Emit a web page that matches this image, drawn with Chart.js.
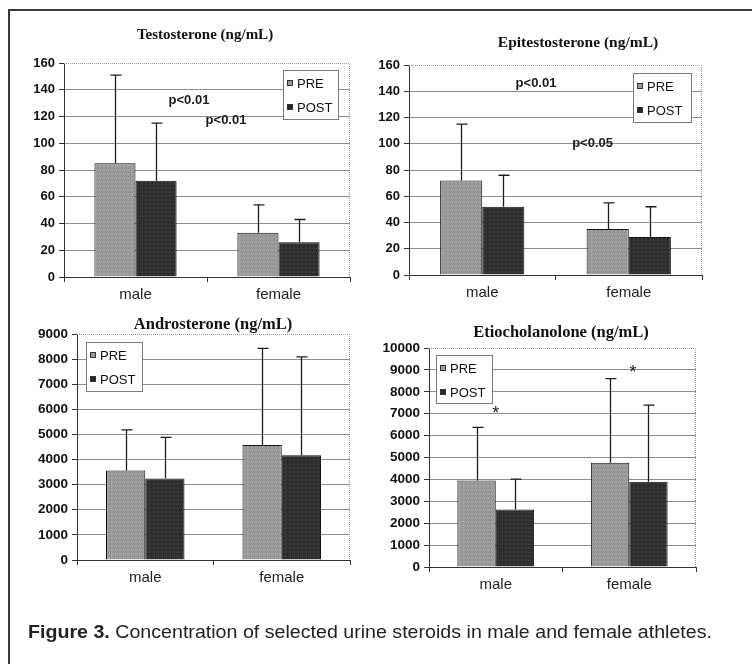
<!DOCTYPE html>
<html>
<head>
<meta charset="utf-8">
<script src="https://cdn.jsdelivr.net/npm/chart.js@4.4.0/dist/chart.umd.min.js"></script>
<style>
  html, body { margin: 0; padding: 0; background: #fff; }
  #page { position: relative; width: 752px; height: 664px; overflow: hidden; background: #fff; }
  #frame { position: absolute; left: 8px; top: 9px; width: 800px; height: 700px;
           border-left: 2px solid #3a3a3a; border-top: 2px solid #3a3a3a; }
  canvas { position: absolute; left: 0; top: 0; }
  #caption { position: absolute; left: 28px; top: 622px; white-space: nowrap; color: #222;
             font-family: "Liberation Sans", Arial, sans-serif;
             font-size: 17.5px; transform-origin: 0 0; }
  #caption b { font-weight: bold; }
</style>
</head>
<body>
<div id="page">
  <div id="frame"></div>
  <canvas id="c1" width="752" height="664"></canvas>
  <canvas id="c2" width="752" height="664"></canvas>
  <canvas id="c3" width="752" height="664"></canvas>
  <canvas id="c4" width="752" height="664"></canvas>
  <div id="caption"><b>Figure 3.</b> Concentration of selected urine steroids in male and female athletes.</div>
</div>
<script>
// ---- data ----
const CATEGORIES = ['male', 'female'];
const SERIES = ['PRE', 'POST'];

const TESTO_PRE = [85, 33];
const TESTO_PRE_SD = [66, 21];
const TESTO_POST = [72, 26];
const TESTO_POST_SD = [43, 17];

const EPI_PRE = [72, 35];
const EPI_PRE_SD = [43, 20];
const EPI_POST = [52, 29];
const EPI_POST_SD = [24, 23];

const ANDRO_PRE = [3560, 4580];
const ANDRO_PRE_SD = [1620, 3850];
const ANDRO_POST = [3250, 4170];
const ANDRO_POST_SD = [1630, 3920];

const ETIO_PRE = [3950, 4760];
const ETIO_PRE_SD = [2430, 3840];
const ETIO_POST = [2630, 3890];
const ETIO_POST_SD = [1380, 3500];

// y axis: [max, step]
const TESTO_AXIS = [160, 20];
const EPI_AXIS = [160, 20];
const ANDRO_AXIS = [9000, 1000];
const ETIO_AXIS = [10000, 1000];

// ---- look ----
const SANS = '"Liberation Sans", Arial, sans-serif';
const SERIF = '"Liberation Serif", "Times New Roman", serif';
const GRID_COLOR = '#8e8e8e';
const AXIS_COLOR = '#333333';

function makePattern(c1, c2) {
  const p = document.createElement('canvas');
  p.width = 4; p.height = 4;
  const g = p.getContext('2d');
  g.fillStyle = c1; g.fillRect(0, 0, 4, 4);
  g.fillStyle = c2;
  g.fillRect(0, 0, 1, 1); g.fillRect(2, 2, 1, 1); g.fillRect(2, 0, 1, 1); g.fillRect(1, 3, 1, 1);
  return document.createElement('canvas').getContext('2d').createPattern(p, 'repeat');
}
const PRE_FILL = makePattern('#a2a2a2', '#858585');
const POST_FILL = makePattern('#2a2a2a', '#454545');
const PRE_KEY = '#9a9a9a';
const POST_KEY = '#262626';

// chart plugin: plot frame, error bars, title, legend box, notes
const decorPlugin = {
  id: 'decor',
  beforeDatasetsDraw(chart) {
    const { ctx, chartArea: a } = chart;
    ctx.save();
    ctx.strokeStyle = '#9a9a9a';
    ctx.lineWidth = 1;
    ctx.setLineDash([1, 1]);
    ctx.beginPath();
    ctx.moveTo(a.left, a.top + 0.5);
    ctx.lineTo(a.right - 0.5, a.top + 0.5);
    ctx.lineTo(a.right - 0.5, a.bottom);
    ctx.stroke();
    ctx.restore();
  },
  afterDatasetsDraw(chart, args, o) {
    const { ctx } = chart;
    const y = chart.scales.y;
    ctx.save();
    ctx.strokeStyle = '#1e1e1e';
    ctx.lineWidth = 1.3;
    (o.errors || []).forEach((errs, di) => {
      const meta = chart.getDatasetMeta(di);
      meta.data.forEach((bar, i) => {
        const v = chart.data.datasets[di].data[i];
        const yt = y.getPixelForValue(v + errs[i]);
        const x = Math.round(bar.x) + 0.5;
        ctx.beginPath();
        ctx.moveTo(x, bar.y);
        ctx.lineTo(x, yt);
        ctx.moveTo(x - 5, yt);
        ctx.lineTo(x + 6, yt);
        ctx.stroke();
      });
    });
    ctx.restore();
  },
  afterDraw(chart, args, o) {
    const { ctx } = chart;
    const xs = chart.scales.x, ys = chart.scales.y;
    ctx.save();
    // title
    if (o.title) {
      ctx.fillStyle = '#111';
      ctx.font = 'bold ' + o.title.size + 'px ' + SERIF;
      ctx.textAlign = 'center';
      ctx.textBaseline = 'middle';
      ctx.fillText(o.title.text, o.title.x, o.title.y);
    }
    // notes (p values, asterisks)
    (o.notes || []).forEach(n => {
      ctx.fillStyle = '#1a1a1a';
      ctx.font = n.font;
      ctx.textAlign = 'center';
      ctx.textBaseline = 'middle';
      ctx.fillText(n.text, xs.getPixelForValue(n.xi), ys.getPixelForValue(n.y));
    });
    // legend box
    if (o.legend) {
      const L = o.legend;
      ctx.fillStyle = '#fff';
      ctx.fillRect(L.x, L.y, L.w, L.h);
      ctx.strokeStyle = '#7a7a7a';
      ctx.lineWidth = 1;
      ctx.strokeRect(L.x + 0.5, L.y + 0.5, L.w, L.h);
      const keys = [PRE_KEY, POST_KEY];
      SERIES.forEach((s, i) => {
        const cy = L.y + 13 + i * 24;
        ctx.fillStyle = keys[i];
        ctx.fillRect(L.x + 4, cy - 3, 6, 6);
        ctx.strokeStyle = '#333';
        ctx.strokeRect(L.x + 4.5, cy - 2.5, 5, 5);
        ctx.fillStyle = '#111';
        ctx.font = '13px ' + SANS;
        ctx.textAlign = 'left';
        ctx.textBaseline = 'middle';
        ctx.fillText(s, L.x + 14, cy + 1);
      });
    }
    ctx.restore();
  }
};

function makeChart(id, pre, preSd, post, postSd, axis, area, tickSize, decor) {
  const YW = 50, XH = 30;
  const max = axis[0];
  return new Chart(document.getElementById(id), {
    type: 'bar',
    data: {
      labels: CATEGORIES,
      datasets: [
        { label: SERIES[0], data: pre, backgroundColor: PRE_FILL, borderColor: '#111', borderWidth: 1 },
        { label: SERIES[1], data: post, backgroundColor: POST_FILL, borderColor: '#111', borderWidth: 1 }
      ]
    },
    options: {
      responsive: false,
      animation: false,
      events: [],
      categoryPercentage: 0.575,
      barPercentage: 1.0,
      layout: {
        padding: { left: area.l - YW, top: area.t, right: 752 - area.r, bottom: 664 - area.b - XH }
      },
      scales: {
        x: {
          afterFit: s => { s.height = XH; },
          grid: { offset: true, drawOnChartArea: false, tickLength: 5, tickColor: AXIS_COLOR },
          border: { color: AXIS_COLOR, width: 1 },
          ticks: { font: { family: SANS, size: 15 }, color: '#222', padding: 4 }
        },
        y: {
          min: 0, max: max,
          afterFit: s => { s.width = YW; },
          grid: {
            color: c => (c.tick.value === max ? 'rgba(0,0,0,0)' : GRID_COLOR),
            tickColor: AXIS_COLOR, tickLength: 5
          },
          border: { color: AXIS_COLOR, width: 1 },
          ticks: {
            stepSize: axis[1],
            callback: v => String(v),
            font: { family: SANS, size: tickSize, weight: 'bold' }, color: '#111', padding: 4
          }
        }
      },
      plugins: {
        legend: { display: false },
        tooltip: { enabled: false },
        decor: Object.assign({ errors: [preSd, postSd] }, decor)
      }
    },
    plugins: [decorPlugin]
  });
}

const P_FONT = 'bold 13px ' + SANS;
const STAR_FONT = '18px ' + SANS;

makeChart('c1', TESTO_PRE, TESTO_PRE_SD, TESTO_POST, TESTO_POST_SD, TESTO_AXIS,
  { l: 64, t: 63, r: 350, b: 277 }, 13,
  { title: { text: 'Testosterone (ng/mL)', x: 205, y: 35, size: 15 },
    legend: { x: 283, y: 70, w: 55, h: 49 },
    notes: [{ text: 'p<0.01', xi: 0.374, y: 132, font: P_FONT },
            { text: 'p<0.01', xi: 0.633, y: 117, font: P_FONT }] });

makeChart('c2', EPI_PRE, EPI_PRE_SD, EPI_POST, EPI_POST_SD, EPI_AXIS,
  { l: 409, t: 65, r: 702, b: 275 }, 13,
  { title: { text: 'Epitestosterone (ng/mL)', x: 578, y: 43, size: 15.5 },
    legend: { x: 633, y: 73, w: 58, h: 49 },
    notes: [{ text: 'p<0.01', xi: 0.367, y: 146, font: P_FONT },
            { text: 'p<0.05', xi: 0.753, y: 100.5, font: P_FONT }] });

makeChart('c3', ANDRO_PRE, ANDRO_PRE_SD, ANDRO_POST, ANDRO_POST_SD, ANDRO_AXIS,
  { l: 77, t: 334, r: 350, b: 560 }, 13.5,
  { title: { text: 'Androsterone (ng/mL)', x: 213, y: 325, size: 16.5 },
    legend: { x: 86, y: 342, w: 56, h: 49 } });

makeChart('c4', ETIO_PRE, ETIO_PRE_SD, ETIO_POST, ETIO_POST_SD, ETIO_AXIS,
  { l: 429, t: 348, r: 696, b: 567 }, 13.5,
  { title: { text: 'Etiocholanolone (ng/mL)', x: 561, y: 333, size: 16.5 },
    legend: { x: 436, y: 355, w: 56, h: 48 },
    notes: [{ text: '*', xi: 0.0, y: 7000, font: STAR_FONT },
            { text: '*', xi: 1.028, y: 8860, font: STAR_FONT }] });

// caption: stretch to the width it has in the figure
const cap = document.getElementById('caption');
const w = cap.getBoundingClientRect().width;
cap.style.transform = 'scaleX(' + (684 / w) + ')';
</script>
</body>
</html>
